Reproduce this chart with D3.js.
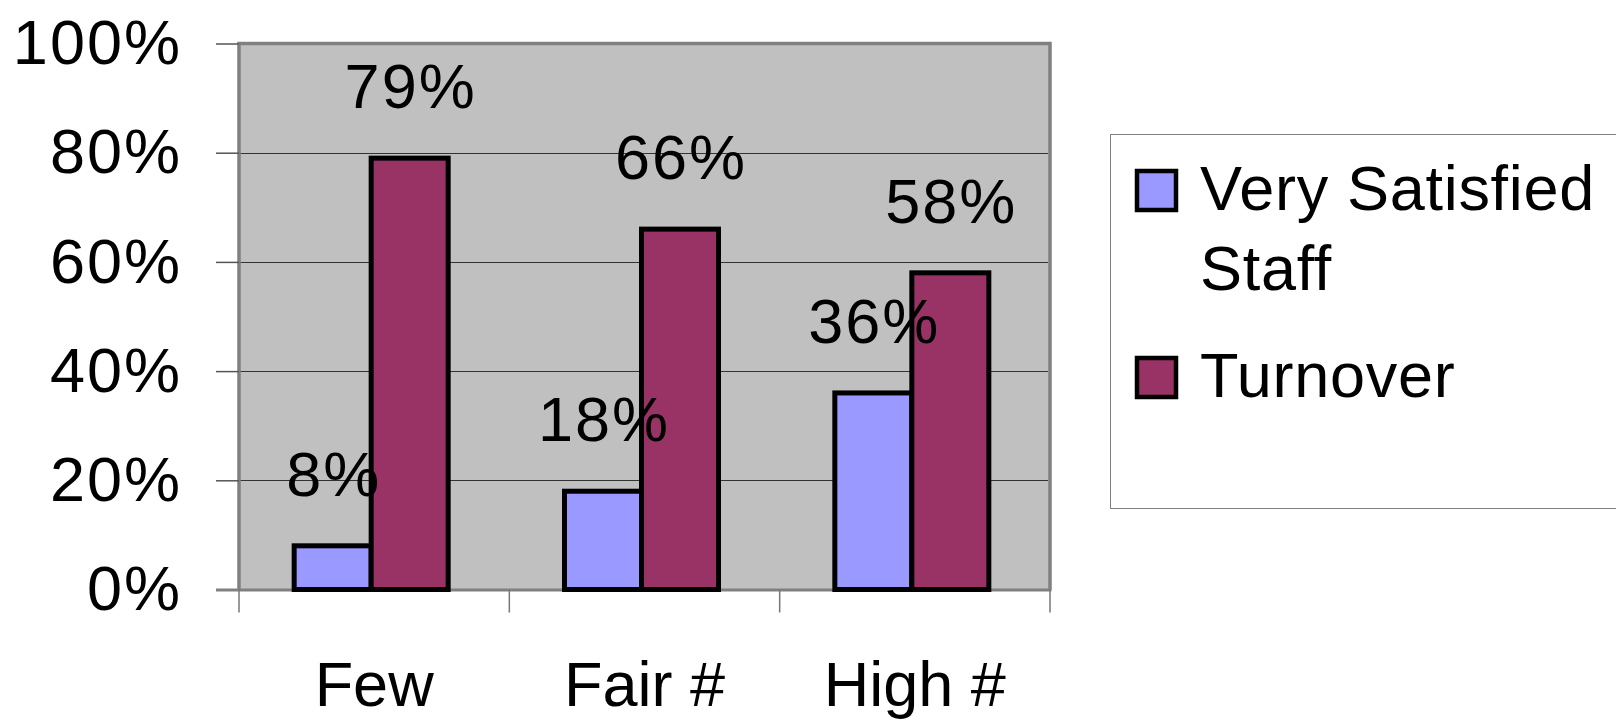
<!DOCTYPE html>
<html>
<head>
<meta charset="utf-8">
<script src="https://cdn.jsdelivr.net/npm/d3@7"></script>
<style>
  html, body { margin: 0; padding: 0; background: #fff; }
  svg { display: block; }
  text { font-family: "Liberation Sans", Arial, sans-serif; fill: #000; }
</style>
</head>
<body>
<svg id="chart" width="1616" height="720"></svg>
<script>
// Categories and series values (fractions)
const categories = ["Few", "Fair #", "High #"];
const seriesNames = ["Very Satisfied Staff", "Turnover"];
const satisfied = [0.08, 0.18, 0.36];
const turnover = [0.79, 0.66, 0.58];
const yTicks = [0, 0.2, 0.4, 0.6, 0.8, 1.0];
const colors = ["#9999FF", "#993366"];

const svg = d3.select("#chart");
const plot = { left: 239, right: 1050, top: 43.5, bottom: 589.5 };
const fontSize = 63;

const x = d3.scaleBand().domain(categories).range([plot.left, plot.right]).padding(0);
const barW = 77;
const inner = d3.scaleBand().domain(seriesNames).range([-barW, barW]).padding(0);
const y = d3.scaleLinear().domain([0, 1]).range([plot.bottom, plot.top]);

// Plot area background
svg.append("rect")
  .attr("x", plot.left).attr("y", plot.top)
  .attr("width", plot.right - plot.left).attr("height", plot.bottom - plot.top)
  .attr("fill", "#C0C0C0");

// Horizontal gridlines
svg.append("g").selectAll("line")
  .data(yTicks.filter(d => d > 0 && d < 1))
  .join("line")
  .attr("x1", plot.left).attr("x2", plot.right - 2)
  .attr("y1", d => Math.round(y(d)) + 0.5).attr("y2", d => Math.round(y(d)) + 0.5)
  .attr("stroke", "#333").attr("stroke-width", 1);

// Plot border: gray frame on top, right and left
svg.append("path")
  .attr("d", `M${plot.left},${plot.bottom} V${plot.top} H${plot.right} V${plot.bottom}`)
  .attr("fill", "none").attr("stroke", "#808080").attr("stroke-width", 3.5);

// Y axis
const yAxis = svg.append("g")
  .attr("transform", `translate(${plot.left},0)`)
  .call(d3.axisLeft(y).tickValues(yTicks).tickFormat(d3.format(".0%")).tickSize(23).tickPadding(34));
yAxis.select(".domain").remove();
yAxis.selectAll(".tick line").attr("stroke", "#555").attr("stroke-width", 1.5);
yAxis.selectAll(".tick text")
  .attr("font-size", fontSize).attr("letter-spacing", 2)
  .attr("font-family", "Liberation Sans, Arial, sans-serif")
  .attr("fill", "#000");

// X axis line and category dividers
svg.append("line")
  .attr("x1", plot.left - 23).attr("x2", plot.right + 1.5)
  .attr("y1", plot.bottom + 0.5).attr("y2", plot.bottom + 0.5)
  .attr("stroke", "#808080").attr("stroke-width", 3);

const dividers = categories.map(c => x(c)).concat([plot.right]);
svg.append("g").selectAll("line")
  .data(dividers)
  .join("line")
  .attr("x1", d => d).attr("x2", d => d)
  .attr("y1", plot.bottom).attr("y2", plot.bottom + 23)
  .attr("stroke", "#777").attr("stroke-width", 1.5);

svg.append("g").selectAll("text")
  .data(categories)
  .join("text")
  .attr("x", d => x(d) + x.bandwidth() / 2)
  .attr("y", 706)
  .attr("text-anchor", "middle")
  .attr("font-size", fontSize)
  .text(d => d);

// Bars
const rows = categories.map((c, i) => ({ cat: c, values: [satisfied[i], turnover[i]] }));
const groups = svg.append("g").selectAll("g")
  .data(rows)
  .join("g")
  .attr("transform", d => `translate(${x(d.cat) + x.bandwidth() / 2 - 3},0)`);

groups.selectAll("rect")
  .data(d => d.values.map((v, j) => ({ v, s: seriesNames[j], j })))
  .join("rect")
  .attr("x", d => inner(d.s))
  .attr("y", d => y(d.v))
  .attr("width", inner.bandwidth())
  .attr("height", d => y(0) - y(d.v))
  .attr("fill", d => colors[d.j])
  .attr("stroke", "#000").attr("stroke-width", 5);

// Value labels
groups.selectAll("text")
  .data(d => d.values.map((v, j) => ({ v, s: seriesNames[j], j })))
  .join("text")
  .attr("x", d => inner(d.s) + inner.bandwidth() / 2 + 1)
  .attr("y", d => y(d.v) - 50)
  .attr("text-anchor", "middle")
  .attr("font-size", fontSize)
  .attr("letter-spacing", 2)
  .text(d => d3.format(".0%")(d.v));

// Legend
const legend = svg.append("g");
legend.append("rect")
  .attr("x", 1110.5).attr("y", 134.5).attr("width", 540).attr("height", 374)
  .attr("fill", "#fff").attr("stroke", "#808080").attr("stroke-width", 1);

const legendItems = [
  { lines: ["Very Satisfied", "Staff"], color: colors[0], sy: 171, ty: 210 },
  { lines: ["Turnover"], color: colors[1], sy: 358, ty: 397 }
];
legendItems.forEach(item => {
  legend.append("rect")
    .attr("x", 1137).attr("y", item.sy).attr("width", 39).attr("height", 39)
    .attr("fill", item.color).attr("stroke", "#000").attr("stroke-width", 4.5);
  const t = legend.append("text").attr("x", 1200).attr("y", item.ty)
    .attr("font-size", fontSize).attr("letter-spacing", 0.7);
  item.lines.forEach((ln, k) => {
    t.append("tspan").attr("x", 1200).attr("dy", k === 0 ? 0 : 80).text(ln);
  });
});
</script>
</body>
</html>
